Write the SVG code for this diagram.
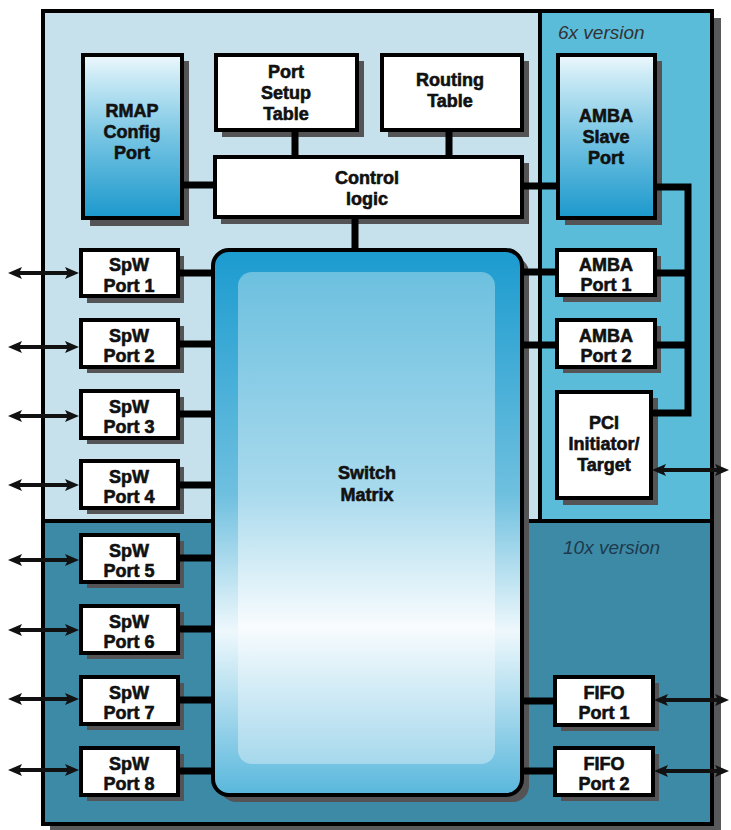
<svg xmlns="http://www.w3.org/2000/svg" width="731" height="830" viewBox="0 0 731 830">
<style>
.box{fill:#fff;stroke:#000;stroke-width:4}
.shd{fill:#545456}
.t{font-family:"Liberation Sans",Arial,sans-serif;font-weight:bold;font-size:18px;text-anchor:middle;fill:#111;stroke:#111;stroke-width:0.6}
.ver{font-family:"Liberation Sans",Arial,sans-serif;font-style:italic;font-size:19px}
.w{stroke:#000;stroke-width:7;fill:none}
.ar{stroke:#111;stroke-width:4;fill:none;marker-start:url(#ah);marker-end:url(#ah)}
</style>
<defs>
<linearGradient id="gport" x1="0" y1="0" x2="0" y2="1">
<stop offset="0" stop-color="#eef8fc"/>
<stop offset="0.12" stop-color="#cdebf6"/>
<stop offset="0.5" stop-color="#77c5e3"/>
<stop offset="1" stop-color="#1b98cc"/>
</linearGradient>
<linearGradient id="gsw" x1="0" y1="0" x2="0" y2="1">
<stop offset="0" stop-color="#1b9bcf"/>
<stop offset="0.45" stop-color="#6fc0df"/>
<stop offset="0.7" stop-color="#eef8fc"/>
<stop offset="1" stop-color="#58b7dc"/>
</linearGradient>
<linearGradient id="gin" x1="0" y1="0" x2="0" y2="1">
<stop offset="0" stop-color="#6cc0df"/>
<stop offset="0.45" stop-color="#a9daed"/>
<stop offset="0.72" stop-color="#f8fcfe"/>
<stop offset="1" stop-color="#a6d8ec"/>
</linearGradient>
<marker id="ah" viewBox="0 0 14 12" refX="3" refY="6" markerWidth="14" markerHeight="12" markerUnits="userSpaceOnUse" orient="auto-start-reverse">
<path d="M0,0 L14,6 L0,12 L3,6 z" fill="#111"/>
</marker>
</defs>

<g id="background">
<rect x="50" y="18" width="671" height="815" fill="#58595b"/>
<rect x="42" y="10" width="671" height="815" fill="#c6e1eb"/>
<rect x="540" y="10" width="173" height="511" fill="#5bbcd9"/>
<rect x="42" y="521" width="671" height="304" fill="#3d8aa7"/>
<line x1="540" y1="10" x2="540" y2="521" stroke="#000" stroke-width="4"/>
<line x1="42" y1="521" x2="713" y2="521" stroke="#000" stroke-width="4"/>
<rect x="43" y="11" width="669" height="813" fill="none" stroke="#000" stroke-width="4"/>
<text class="ver" x="558" y="39" fill="#333">6x version</text>
<text class="ver" x="563" y="554" fill="#1e3a4c">10x version</text>
</g>

<g id="switch-matrix">
<rect x="220" y="257" width="309" height="545" rx="16" class="shd"/>
<rect x="213" y="250" width="309" height="545" rx="16" fill="url(#gsw)" stroke="#000" stroke-width="4"/>
<rect x="238" y="272" width="257" height="492" rx="14" fill="url(#gin)"/>
<text class="t" x="367" y="479">Switch</text>
<text class="t" x="367" y="501">Matrix</text>
</g>

<g id="rmap-config-port">
<rect x="90" y="61" width="99" height="165" class="shd"/>
<rect x="83" y="55" width="99" height="163" fill="url(#gport)" stroke="#000" stroke-width="4"/>
<text class="t" x="132" y="117">RMAP</text>
<text class="t" x="132" y="138">Config</text>
<text class="t" x="132" y="159">Port</text>
</g>

<g id="port-setup-table">
<rect x="222" y="61" width="142" height="76" class="shd"/>
<rect x="216" y="55" width="141" height="75" class="box"/>
<text class="t" x="286" y="78">Port</text>
<text class="t" x="286" y="99">Setup</text>
<text class="t" x="286" y="120">Table</text>
</g>

<g id="routing-table">
<rect x="388" y="61" width="141" height="76" class="shd"/>
<rect x="382" y="55" width="140" height="75" class="box"/>
<text class="t" x="450" y="86">Routing</text>
<text class="t" x="450" y="107">Table</text>
</g>

<g id="amba-slave-port">
<rect x="565" y="61" width="97" height="164" class="shd"/>
<rect x="558" y="55" width="97" height="163" fill="url(#gport)" stroke="#000" stroke-width="4"/>
<text class="t" x="606" y="122">AMBA</text>
<text class="t" x="606" y="143">Slave</text>
<text class="t" x="606" y="164">Port</text>
</g>

<g id="control-logic">
<rect x="221" y="163" width="308" height="61" class="shd"/>
<rect x="215" y="157" width="307" height="60" class="box"/>
<text class="t" x="367" y="184">Control</text>
<text class="t" x="367" y="205">logic</text>
</g>

<g id="spw-port-1"><rect x="87" y="256" width="97" height="47" class="shd"/><rect x="81" y="250" width="97" height="46" class="box"/><text class="t" x="129" y="271">SpW</text><text class="t" x="129" y="291.5">Port 1</text></g>
<g id="spw-port-2"><rect x="87" y="326" width="97" height="47" class="shd"/><rect x="81" y="320" width="97" height="47" class="box"/><text class="t" x="129" y="341.5">SpW</text><text class="t" x="129" y="362">Port 2</text></g>
<g id="spw-port-3"><rect x="87" y="397" width="97" height="47" class="shd"/><rect x="81" y="391" width="97" height="47" class="box"/><text class="t" x="129" y="412.5">SpW</text><text class="t" x="129" y="433">Port 3</text></g>
<g id="spw-port-4"><rect x="87" y="467" width="97" height="47" class="shd"/><rect x="81" y="461" width="97" height="47" class="box"/><text class="t" x="129" y="482.5">SpW</text><text class="t" x="129" y="503">Port 4</text></g>
<g id="spw-port-5"><rect x="87" y="541" width="97" height="47" class="shd"/><rect x="81" y="535" width="97" height="47" class="box"/><text class="t" x="129" y="556.5">SpW</text><text class="t" x="129" y="577">Port 5</text></g>
<g id="spw-port-6"><rect x="87" y="612" width="97" height="47" class="shd"/><rect x="81" y="606" width="97" height="47" class="box"/><text class="t" x="129" y="627.5">SpW</text><text class="t" x="129" y="648">Port 6</text></g>
<g id="spw-port-7"><rect x="87" y="683" width="97" height="47" class="shd"/><rect x="81" y="677" width="97" height="47" class="box"/><text class="t" x="129" y="698.5">SpW</text><text class="t" x="129" y="719">Port 7</text></g>
<g id="spw-port-8"><rect x="87" y="754" width="97" height="47" class="shd"/><rect x="81" y="748" width="97" height="47" class="box"/><text class="t" x="129" y="769.5">SpW</text><text class="t" x="129" y="790">Port 8</text></g>

<g id="amba-port-1"><rect x="563" y="256" width="98" height="46" class="shd"/><rect x="557" y="250" width="98" height="45" class="box"/><text class="t" x="606" y="270.5">AMBA</text><text class="t" x="606" y="291">Port 1</text></g>
<g id="amba-port-2"><rect x="563" y="326" width="98" height="47" class="shd"/><rect x="557" y="320" width="98" height="47" class="box"/><text class="t" x="606" y="341.5">AMBA</text><text class="t" x="606" y="362">Port 2</text></g>
<g id="pci-initiator-target"><rect x="563" y="398" width="95" height="107" class="shd"/><rect x="557" y="392" width="94" height="106" class="box"/><text class="t" x="604" y="429">PCI</text><text class="t" x="604" y="450">Initiator/</text><text class="t" x="604" y="471">Target</text></g>

<g id="fifo-port-1"><rect x="561" y="683" width="98" height="48" class="shd"/><rect x="555" y="677" width="98" height="48" class="box"/><text class="t" x="604" y="698.5">FIFO</text><text class="t" x="604" y="719">Port 1</text></g>
<g id="fifo-port-2"><rect x="561" y="754" width="98" height="47" class="shd"/><rect x="555" y="748" width="98" height="47" class="box"/><text class="t" x="604" y="769.5">FIFO</text><text class="t" x="604" y="790">Port 2</text></g>

<g id="connectors">
<line class="w" x1="295" y1="130" x2="295" y2="157"/>
<line class="w" x1="449" y1="130" x2="449" y2="157"/>
<line class="w" x1="182" y1="185" x2="215" y2="185"/>
<line class="w" x1="522" y1="186" x2="558" y2="186"/>
<line class="w" x1="355" y1="217" x2="355" y2="250"/>
<path class="w" d="M655,187 H688 V413 H651"/>
<line class="w" x1="655" y1="273" x2="688" y2="273"/>
<line class="w" x1="655" y1="345" x2="688" y2="345"/>
<line class="w" x1="522" y1="272" x2="557" y2="272"/>
<line class="w" x1="522" y1="345" x2="557" y2="345"/>
<line class="w" x1="522" y1="701" x2="555" y2="701"/>
<line class="w" x1="522" y1="771" x2="555" y2="771"/>
<line class="w" x1="178" y1="273" x2="213" y2="273"/>
<line class="w" x1="178" y1="344" x2="213" y2="344"/>
<line class="w" x1="178" y1="414" x2="213" y2="414"/>
<line class="w" x1="178" y1="485" x2="213" y2="485"/>
<line class="w" x1="178" y1="558" x2="213" y2="558"/>
<line class="w" x1="178" y1="629" x2="213" y2="629"/>
<line class="w" x1="178" y1="700" x2="213" y2="700"/>
<line class="w" x1="178" y1="771" x2="213" y2="771"/>
<line class="ar" x1="19" y1="273" x2="68" y2="273"/>
<line class="ar" x1="19" y1="347" x2="68" y2="347"/>
<line class="ar" x1="19" y1="416" x2="68" y2="416"/>
<line class="ar" x1="19" y1="485" x2="68" y2="485"/>
<line class="ar" x1="19" y1="560" x2="68" y2="560"/>
<line class="ar" x1="19" y1="630" x2="68" y2="630"/>
<line class="ar" x1="19" y1="699" x2="68" y2="699"/>
<line class="ar" x1="19" y1="770" x2="68" y2="770"/>
<line class="ar" x1="663" y1="470" x2="718" y2="470"/>
<line class="ar" x1="665" y1="700" x2="718" y2="700"/>
<line class="ar" x1="665" y1="771" x2="718" y2="771"/>
</g>
</svg>
